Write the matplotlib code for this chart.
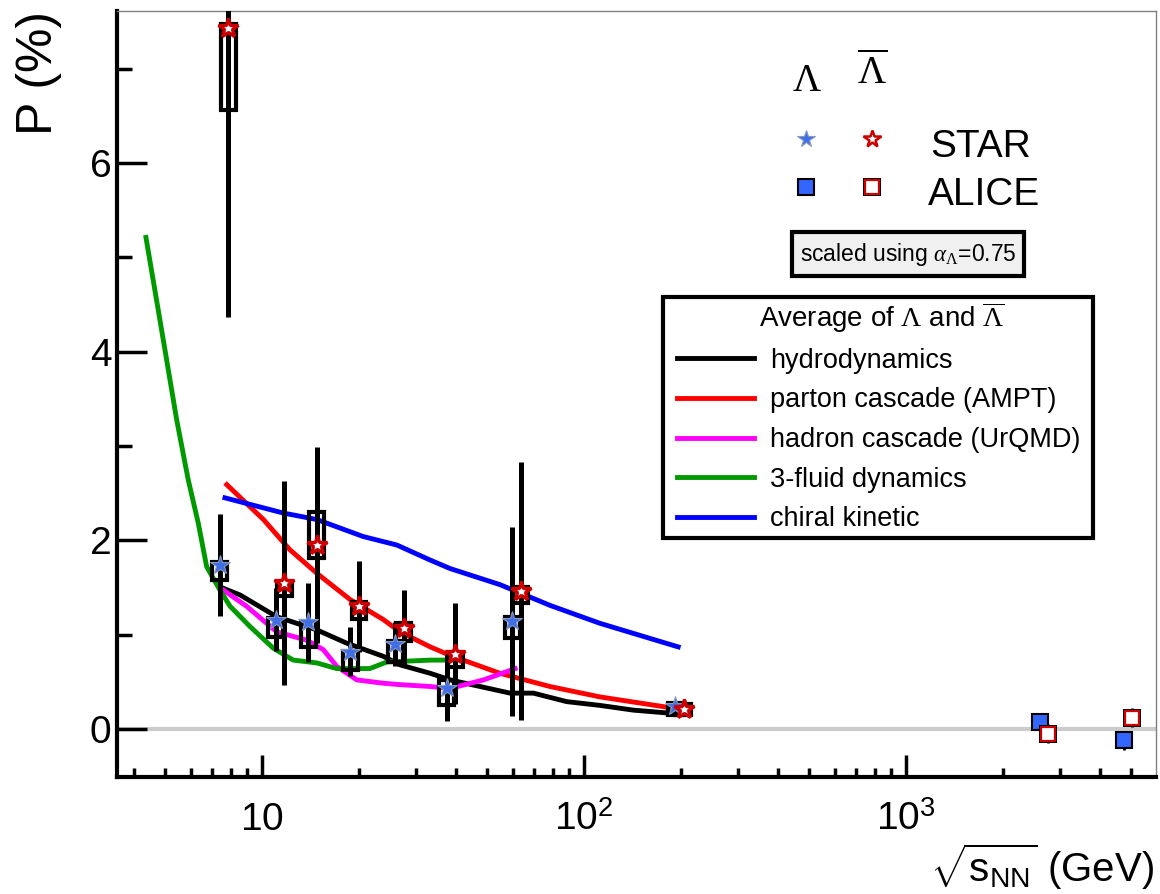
import numpy as np
import matplotlib
matplotlib.use('Agg')
import matplotlib.pyplot as plt
from matplotlib.patches import Rectangle
from matplotlib.ticker import FixedLocator, LogLocator, NullFormatter

plt.rcParams['font.family'] = ['Liberation Sans', 'DejaVu Sans']
plt.rcParams['mathtext.fontset'] = 'custom'
plt.rcParams['mathtext.rm'] = 'Liberation Serif'
plt.rcParams['mathtext.it'] = 'Liberation Serif:italic'
plt.rcParams['mathtext.sf'] = 'Liberation Sans'

# STAR data (Lambda / anti-Lambda)
star_energy = [7.7, 11.5, 14.5, 19.6, 27, 39, 62.4, 200]
lam_P = [1.74, 1.16, 1.13, 0.82, 0.90, 0.43, 1.14, 0.24]
lam_stat = [0.54, 0.33, 0.42, 0.26, 0.23, 0.35, 1.00, 0.04]
lam_sys_lo = [0.16, 0.18, 0.26, 0.19, 0.19, 0.18, 0.18, 0.09]
lam_sys_hi = [0.03, 0.02, 0.01, 0.01, 0.03, 0.09, 0.05, 0.04]

alam_P = [7.43, 1.545, 1.95, 1.30, 1.07, 0.80, 1.46, 0.21]
alam_stat = [3.06, 1.08, 1.04, 0.48, 0.40, 0.54, 1.37, 0.04]
alam_sys_lo = [0.87, 0.14, 0.14, 0.13, 0.14, 0.14, 0.12, 0.06]
alam_sys_hi = [0.04, 0.01, 0.35, 0.05, 0.05, 0.01, 0.04, 0.06]

# ALICE data
alice_energy = [2760, 5020]
alice_lam_P = [0.07, -0.12]
alice_alam_P = [-0.05, 0.12]
alice_err = [0.10, 0.10]

# model curves
hydro_x = [7.6, 8.55, 11.1, 14.8, 18.3, 23.8, 26.8, 33.3, 38.4, 58.9, 69.6, 88.3, 112, 142, 181, 190]
hydro_y = [1.49, 1.42, 1.19, 1.05, 0.91, 0.77, 0.68, 0.59, 0.52, 0.38, 0.38, 0.29, 0.25, 0.20, 0.17, 0.17]
ampt_x = [7.77, 10.1, 12.2, 14.8, 18.8, 23.8, 26.8, 33.3, 38.4, 54.8, 78.4, 112, 190]
ampt_y = [2.59, 2.22, 1.90, 1.65, 1.37, 1.16, 1.03, 0.87, 0.78, 0.59, 0.45, 0.34, 0.22]
urqmd_x = [7.6, 8.96, 11.1, 13.8, 15.5, 17.1, 19.7, 23.8, 26.8, 33.3, 38.4, 48.7, 61.1]
urqmd_y = [1.47, 1.30, 1.03, 0.94, 0.84, 0.66, 0.52, 0.485, 0.47, 0.45, 0.43, 0.52, 0.64]
fluid_x = [4.36, 4.86, 5.43, 5.9, 6.34, 6.73, 7.41, 7.96, 9.18, 10.84, 12.5, 14.8, 17.06, 21.6, 24.4, 33.3, 37.0]
fluid_y = [5.21, 4.26, 3.28, 2.64, 2.18, 1.72, 1.47, 1.30, 1.085, 0.856, 0.73, 0.70, 0.64, 0.64, 0.71, 0.73, 0.73]
chiral_x = [7.67, 11.6, 14.8, 20.6, 26.2, 33.3, 38.4, 54.8, 78.4, 112, 196]
chiral_y = [2.45, 2.29, 2.22, 2.04, 1.95, 1.79, 1.70, 1.53, 1.31, 1.12, 0.87]

W, H = 1160, 894
AX_L, AX_R, AX_T, AX_B = 117, 1156, 11, 777


def px2ax(px, py):
    return ((px - AX_L) / (AX_R - AX_L), (AX_B - py) / (AX_B - AX_T))


fig = plt.figure(figsize=(W / 100, H / 100), dpi=100)
ax = fig.add_axes([AX_L / W, 1 - AX_B / H, (AX_R - AX_L) / W, (AX_B - AX_T) / H])
ax.set_xscale('log')
ax.set_xlim(3.545, 5970)
ax.set_ylim(-0.509, 7.61)

ax.axhline(0, color='#cccccc', lw=3, zorder=1)

# model curves
lines = []
for xs, ys, c, lab in [(hydro_x, hydro_y, 'black', 'hydrodynamics'),
                       (ampt_x, ampt_y, '#ff0000', 'parton cascade (AMPT)'),
                       (urqmd_x, urqmd_y, '#ff00ff', 'hadron cascade (UrQMD)'),
                       (fluid_x, fluid_y, '#009900', '3-fluid dynamics'),
                       (chiral_x, chiral_y, '#0000ff', 'chiral kinetic')]:
    l, = ax.plot(xs, ys, color=c, lw=3.5, solid_joinstyle='round', label=lab, zorder=2)
    lines.append(l)

blue_star = dict(marker='*', ms=15, mfc='#3f6fe8', mec='#8899bb', mew=0.8, ls='none')
red_star = dict(marker='*', ms=15, mfc='white', mec='#cc0000', mew=2.4, ls='none')
bw = 0.023


def draw_points(E, P, stat, slo, shi, shift, mk):
    E = np.array(E) * shift
    for e, p, lo, hi in zip(E, P, slo, shi):
        ax.add_patch(Rectangle((e * 10 ** -bw, p - lo), e * (10 ** bw - 10 ** -bw), lo + hi,
                               fill=False, ec='black', lw=3, zorder=4))
    ax.errorbar(E, P, yerr=stat, fmt='none', ecolor='black', elinewidth=3.6, capsize=0, zorder=3)
    ax.plot(E, P, zorder=5, **mk)


draw_points(star_energy, lam_P, lam_stat, lam_sys_lo, lam_sys_hi, 0.96, blue_star)
draw_points(star_energy, alam_P, alam_stat, alam_sys_lo, alam_sys_hi, 1.02, red_star)

ea = np.array(alice_energy)
ax.errorbar(ea * 0.945, alice_lam_P, yerr=alice_err, fmt='none', ecolor='black', elinewidth=2, zorder=3)
ax.errorbar(ea, alice_alam_P, yerr=alice_err, fmt='none', ecolor='black', elinewidth=2, zorder=3)
ax.plot(ea * 0.945, alice_lam_P, 's', ms=12, mfc='#3366ff', mec='black', mew=1.5, zorder=5)
ax.plot(ea, alice_alam_P, 's', ms=12.5, mfc='black', mec='black', mew=0, zorder=5)
ax.plot(ea, alice_alam_P, 's', ms=10, mfc='white', mec='#cc0000', mew=1.6, zorder=6)

# axes styling
for s in ['left', 'bottom']:
    ax.spines[s].set_linewidth(3)
    ax.spines[s].set_color('black')
for s in ['top', 'right']:
    ax.spines[s].set_linewidth(1)
    ax.spines[s].set_color('#808080')

ax.set_xticks([10, 100, 1000])
ax.set_xticklabels([r'$\mathsf{10}$', r'$\mathsf{10}^{\mathsf{2}}$', r'$\mathsf{10}^{\mathsf{3}}$'])
ax.xaxis.set_minor_locator(LogLocator(base=10, subs=np.arange(2, 10), numticks=20))
ax.xaxis.set_minor_formatter(NullFormatter())
ax.set_yticks([0, 2, 4, 6])
ax.yaxis.set_minor_locator(FixedLocator([1, 3, 5, 7]))

ax.tick_params(axis='x', which='major', direction='in', length=16, width=2.5, labelsize=28, pad=18,
               top=False)
ax.tick_params(axis='x', which='minor', direction='in', length=6.5, width=2.5, top=False)
ax.tick_params(axis='y', which='major', direction='in', length=21.5, width=2.5, labelsize=28, pad=4,
               right=False)
ax.tick_params(axis='y', which='minor', direction='in', length=10.8, width=2.5, right=False)

fig.text(39 / W, 1 - 11 / H, 'P (%)', rotation=90, ha='center', va='top', fontsize=36)
fig.text(1154 / W, 1 - 867 / H, r'$\sqrt{\mathsf{s}_{\mathsf{NN}}}$ (GeV)', ha='right', va='center',
         fontsize=29)

# top-right particle legend
ax.text(*px2ax(806.7, 81), r'$\Lambda$', transform=ax.transAxes, ha='center', va='center', fontsize=28)
ax.text(*px2ax(871.7, 73), r'$\overline{\Lambda}$', transform=ax.transAxes, ha='center', va='center',
        fontsize=28)
ax.plot(*px2ax(806, 139), transform=ax.transAxes, clip_on=False,
        **dict(blue_star, ms=13))
ax.plot(*px2ax(871.7, 139), transform=ax.transAxes, clip_on=False,
        **dict(red_star, ms=13, mew=1.8))
ax.plot(*px2ax(806, 187), 's', transform=ax.transAxes, clip_on=False, ms=12, mfc='#3366ff', mec='black',
        mew=1.5)
ax.plot(*px2ax(871.7, 187), 's', transform=ax.transAxes, clip_on=False, ms=12.5, mfc='black', mew=0)
ax.plot(*px2ax(871.7, 187), 's', transform=ax.transAxes, clip_on=False, ms=10, mfc='white',
        mec='#cc0000', mew=1.6)
ax.text(*px2ax(930, 156.7), 'STAR', transform=ax.transAxes, ha='left', va='baseline', fontsize=28)
ax.text(*px2ax(928, 205), 'ALICE', transform=ax.transAxes, ha='left', va='baseline', fontsize=28)

ax.text(*px2ax(908, 254), r'scaled using $\alpha_{\Lambda}$=0.75', transform=ax.transAxes,
        ha='center', va='center', fontsize=16.5,
        bbox=dict(boxstyle='square,pad=0.35', fc='#f0f0f0', ec='black', lw=3))

# model legend: frame and title drawn by hand, entries via legend
x0, y0 = px2ax(663, 538)
x1, y1 = px2ax(1093, 297)
ax.add_patch(Rectangle((x0, y0), x1 - x0, y1 - y0, transform=ax.transAxes, fill=True, fc='white',
                       ec='black', lw=3, zorder=7, clip_on=False))
ax.text(*px2ax(882, 327), r'Average of $\Lambda$ and $\overline{\Lambda}$', transform=ax.transAxes,
        ha='center', va='baseline', fontsize=20, zorder=8)
leg = ax.legend(handles=lines, loc='center left', bbox_to_anchor=px2ax(677, 440),
                fontsize=19.5, frameon=False, handlelength=2.85, handletextpad=0.6, borderpad=0,
                labelspacing=0.5, borderaxespad=0)
leg.set_zorder(9)

fig.savefig('out.png', dpi=100)
